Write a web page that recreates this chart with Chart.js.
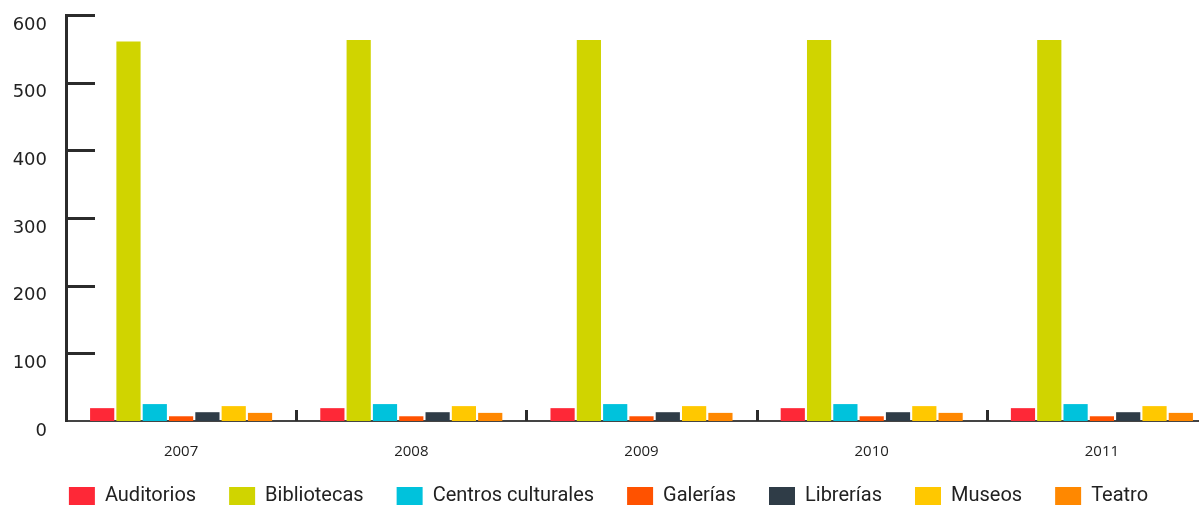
<!DOCTYPE html>
<html>
<head>
<meta charset="utf-8">
<script src="https://cdn.jsdelivr.net/npm/chart.js@4.4.0/dist/chart.umd.min.js"></script>
<style>
  html, body { margin: 0; padding: 0; background: #fff; overflow: hidden; }
  #wrap { width: 1218px; height: 506px; position: relative; }
</style>
</head>
<body>
<div id="wrap"><canvas id="c" width="1218" height="506"></canvas></div>
<script>
const years = ['2007', '2008', '2009', '2010', '2011'];
const auditorios = [19, 19, 19, 19, 19];
const bibliotecas = [561, 563, 563, 563, 563];
const centrosCulturales = [25, 25, 25, 25, 25];
const galerias = [7, 7, 7, 7, 7];
const librerias = [13, 13, 13, 13, 13];
const museos = [22, 22, 22, 22, 22];
const teatro = [12, 12, 12, 12, 12];
const yTicks = [0, 100, 200, 300, 400, 500, 600];

const seriesNames = ['Auditorios', 'Bibliotecas', 'Centros culturales', 'Galerías', 'Librerías', 'Museos', 'Teatro'];
const seriesData = [auditorios, bibliotecas, centrosCulturales, galerias, librerias, museos, teatro];
const seriesColors = ['#FE2837', '#D0D400', '#00C2DC', '#FF5200', '#2F3C47', '#FFC800', '#FF8800'];

const axisColor = '#2b2b2b';

const tickMarks = {
  id: 'tickMarks',
  afterLayout(chart) {
    const lg = chart.legend;
    const dy = 453 - lg.top;
    lg.top += dy; lg.bottom += dy;
  },
  afterDraw(chart) {
    const ctx = chart.ctx;
    const area = chart.chartArea;
    const y = chart.scales.y;
    const x = chart.scales.x;
    ctx.save();
    ctx.strokeStyle = axisColor;
    ctx.lineWidth = 3;
    ctx.beginPath();
    yTicks.forEach(v => {
      if (v === 0) return;
      const py = Math.round(y.getPixelForValue(v)) + 0.5;
      ctx.moveTo(area.left, py);
      ctx.lineTo(area.left + 29, py);
    });
    ctx.stroke();
    ctx.beginPath();
    for (let i = 1; i < years.length; i++) {
      const px = Math.round((x.getPixelForValue(i - 1) + x.getPixelForValue(i)) / 2) + 0.5;
      ctx.moveTo(px, area.bottom - 11);
      ctx.lineTo(px, area.bottom);
    }
    ctx.stroke();
    ctx.restore();
  }
};

new Chart(document.getElementById('c'), {
  type: 'bar',
  data: {
    labels: years,
    datasets: seriesNames.map((n, i) => ({
      label: n,
      data: seriesData[i],
      backgroundColor: seriesColors[i],
      borderWidth: 0,
      categoryPercentage: 0.8,
      barPercentage: 0.92
    }))
  },
  options: {
    responsive: false,
    animation: false,
    layout: { padding: { top: 15, right: 1, left: 0, bottom: -30 } },
    plugins: {
      legend: {
        position: 'bottom',
        labels: {
          boxWidth: 26,
          boxHeight: 18,
          padding: 33,
          color: '#222',
          font: { family: 'Roboto', size: 20 }
        }
      },
      tooltip: { enabled: false }
    },
    scales: {
      x: {
        grid: { display: false, drawTicks: false },
        border: { color: '#444', width: 2 },
        ticks: { color: '#222', padding: 22, font: { family: 'Open Sans', size: 15 } },
        afterFit(s) { s.height = 52; s.paddingLeft = 0; s.paddingRight = 0; }
      },
      y: {
        min: 0, max: 600,
        afterBuildTicks(s) { s.ticks = yTicks.map(v => ({ value: v })); },
        grid: { display: false, drawTicks: false },
        border: { color: axisColor, width: 3 },
        ticks: { color: '#222', padding: 19, labelOffset: 10, font: { family: 'DejaVu Sans', size: 18 } },
        afterFit(s) { s.width = 66; s.paddingTop = 0; s.paddingBottom = 0; }
      }
    }
  },
  plugins: [tickMarks]
});
</script>
</body>
</html>
